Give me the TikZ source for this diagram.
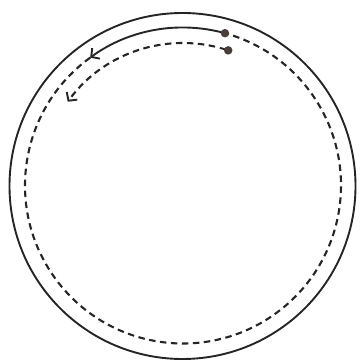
\documentclass[tikz,border=0pt]{standalone}
\usetikzlibrary{arrows.meta}
\definecolor{ink}{RGB}{38,36,36}
\definecolor{dotc}{RGB}{72,62,58}
\tikzset{
  ring/.style={draw=ink, line width=1.9pt},
  dashring/.style={draw=ink, line width=2.1pt, dash pattern=on 6.5pt off 4.5pt},
  pin/.style={circle, fill=dotc, inner sep=0pt, minimum size=8.5pt},
  barb/.style={-{Straight Barb[length=6pt,width=13pt,line width=1.9pt]}}
}
\begin{document}
\begin{tikzpicture}[x=1pt,y=1pt]
\useasboundingbox (0,0) rectangle (359,364);
\coordinate (oc) at (182.5,178);
\coordinate (c) at (183,178.5);
% outer solid circle
\draw[ring] (oc) circle[radius=173];
% outer path: solid arc with arrow, then dashed the rest
\coordinate (p1) at ([shift={(74.6:158)}]c);
\coordinate (a1) at ([shift={(126:158)}]c);
\draw[dashring] (a1) arc[start angle=126, end angle=434.6, radius=158];
\draw[ring, barb] (p1) arc[start angle=74.6, end angle=126, radius=158];
\node[pin] (d1) at (p1) {};
% inner path
\coordinate (p2) at ([shift={(71.5:142.5)}]c);
\coordinate (s2) at ([shift={(75:142.5)}]c);
\coordinate (s3) at ([shift={(77:142.5)}]c);
\draw[ring] (p2) arc[start angle=71.5, end angle=75, radius=142.5];
\draw[dashring, barb] (s3) arc[start angle=77, end angle=144, radius=142.5];
\node[pin] (d2) at (p2) {};
\end{tikzpicture}
\end{document}
